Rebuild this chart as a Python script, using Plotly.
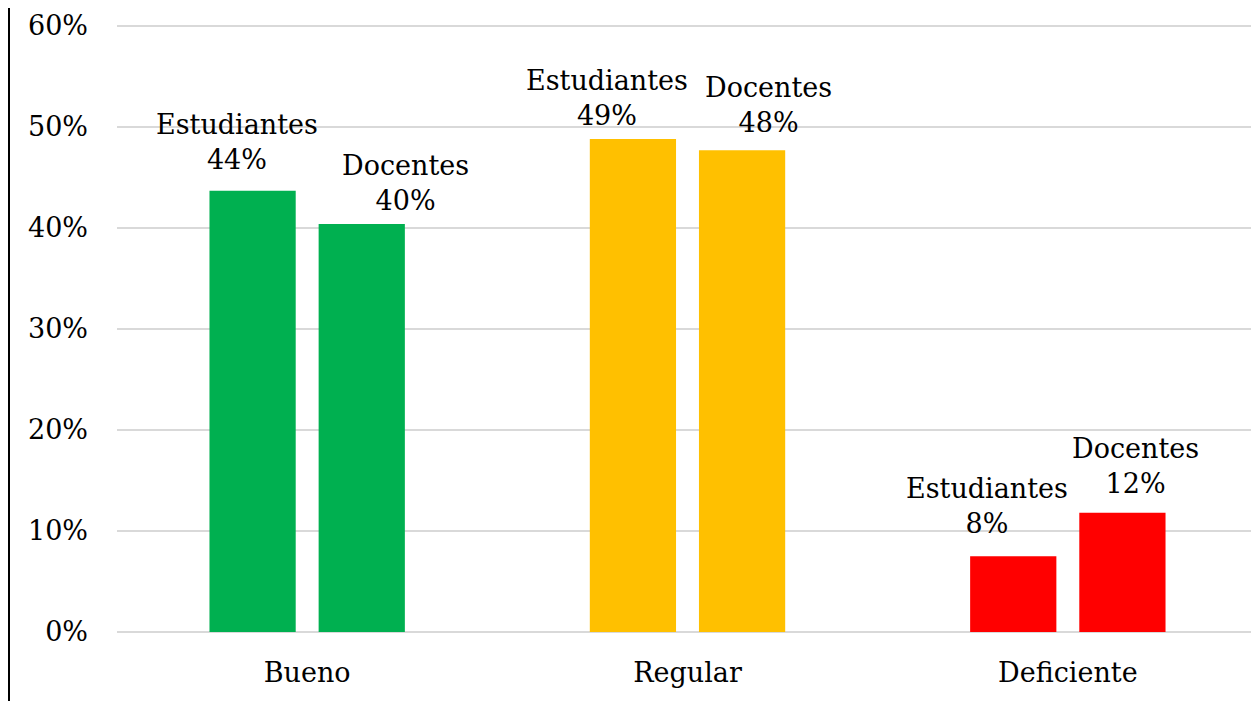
import plotly.graph_objects as go

categories = ["Bueno", "Regular", "Deficiente"]
series_names = ["Estudiantes", "Docentes"]
estudiantes = [0.437, 0.488, 0.075]
docentes = [0.404, 0.477, 0.118]
colors = ["#00B050", "#FFC000", "#FF0000"]

# label style offsets (pixels) relative to bar top center
est_label_dx = [-16, -26, -26]
est_label_dy = [14, 6, 15]
doc_label_dx = [44, 26, 13]
doc_label_dy = [6, 10, 12]

FONT = "DejaVu Serif"
FS = 27
W, H = 1259, 701
ML, MR, MT, MB = 109, 9, 14, 77
Y_TOP = 0.6 * (H - MT - MB) / 606.0  # keeps 60% gridline inside the plot area

fig = go.Figure()
for name, vals in zip(series_names, [estudiantes, docentes]):
    fig.add_trace(go.Bar(
        x=categories, y=vals, name=name,
        marker=dict(color=colors, line=dict(width=0)),
        hoverinfo="skip",
    ))

plot_w = W - ML - MR
slot_px = plot_w / len(categories) * (1 - 0.426) / 2
for i, cat in enumerate(categories):
    for s, (name, vals, dxs, dys) in enumerate([
        ("Estudiantes", estudiantes, est_label_dx, est_label_dy),
        ("Docentes", docentes, doc_label_dx, doc_label_dy),
    ]):
        bar_off = (-0.5 if s == 0 else 0.5) * slot_px
        fig.add_annotation(
            x=cat, y=vals[i], xref="x", yref="y",
            text=f"{name}<br>{round(vals[i]*100):.0f}%",
            showarrow=False, xanchor="center", yanchor="bottom",
            xshift=bar_off + dxs[i], yshift=dys[i],
            font=dict(family=FONT, size=FS, color="#000000"),
            align="center",
        )

fig.add_shape(type="line", xref="paper", yref="paper",
              x0=(1 - ML) / plot_w, x1=(1 - ML) / plot_w,
              y0=-MB / (H - MT - MB), y1=(H - MT) / (H - MT - MB),
              line=dict(color="#000000", width=2))

fig.update_layout(
    width=W, height=H,
    margin=dict(l=ML, r=MR, t=MT, b=MB),
    paper_bgcolor="white", plot_bgcolor="white",
    showlegend=False,
    barmode="group", bargap=0.426, bargroupgap=0.21,
    font=dict(family=FONT, size=FS, color="#000000"),
)
fig.update_yaxes(
    range=[0, Y_TOP], tickvals=[0, 0.1, 0.2, 0.3, 0.4, 0.5, 0.6],
    tickformat=".0%",
    showgrid=True, gridcolor="#D9D9D9", gridwidth=1.5,
    zeroline=True, zerolinecolor="#D9D9D9", zerolinewidth=1.5,
    showline=False, ticks="", ticklabelstandoff=28,
    tickfont=dict(family=FONT, size=FS), automargin=False,
)
fig.update_xaxes(
    showgrid=False, showline=False, ticks="",
    ticklabelstandoff=22,
    tickfont=dict(family=FONT, size=FS), automargin=False,
)

fig.write_html("out.html")
